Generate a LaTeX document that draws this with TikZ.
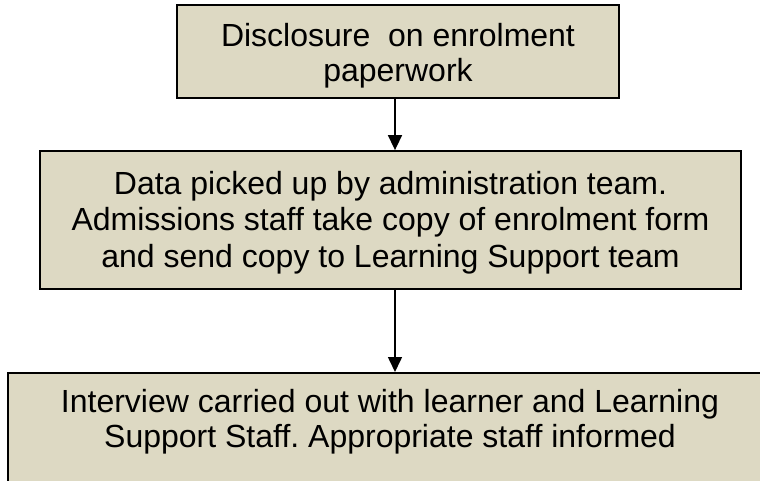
\documentclass[tikz,border=0pt]{standalone}
\usepackage{fontspec}
\setmainfont{Liberation Sans}
\usetikzlibrary{arrows.meta}
\frenchspacing
\definecolor{boxfill}{RGB}{221,217,195}
\tikzset{
  flowbox/.style={draw=black, line width=1.8pt, fill=boxfill, rectangle, inner sep=0pt},
  boxtext/.style={align=center, inner sep=0pt, anchor=north, font=\fontsize{32}{35.5}\selectfont},
  arr/.style={line width=1.6pt, -{Triangle[width=14pt,length=15pt]}}
}
\begin{document}
\begin{tikzpicture}[x=1pt,y=-1pt]
\useasboundingbox (0,0) rectangle (760,481);
\clip (0,0) rectangle (760,481);
% boxes
\node[flowbox, minimum width=442pt, minimum height=93pt] (b1) at (398,51.5) {};
\node[flowbox, minimum width=701pt, minimum height=138pt] (b2) at (390.5,220) {};
\node[flowbox, minimum width=764pt, minimum height=200pt, anchor=north] (b3) at (390,372) {};
% texts
\node[boxtext] (t1) at ([yshift=-19pt]b1.north)
  {Disclosure\ \ on enrolment\\paperwork};
\node[boxtext, font=\fontsize{32}{36.5}\selectfont] (t2) at ([yshift=-21pt]b2.north)
  {Data picked up by administration team.\\Admissions staff take copy of enrolment form\\and send copy to Learning Support team};
\node[boxtext] (t3) at ([yshift=-17pt]b3.north)
  {Interview carried out with learner and Learning\\Support Staff. Appropriate staff informed};
% connectors
\coordinate (ax) at (395,0);
\draw[arr] (b1.south -| ax) -- (b2.north -| ax);
\draw[arr] (b2.south -| ax) -- (b3.north -| ax);
\end{tikzpicture}
\end{document}
